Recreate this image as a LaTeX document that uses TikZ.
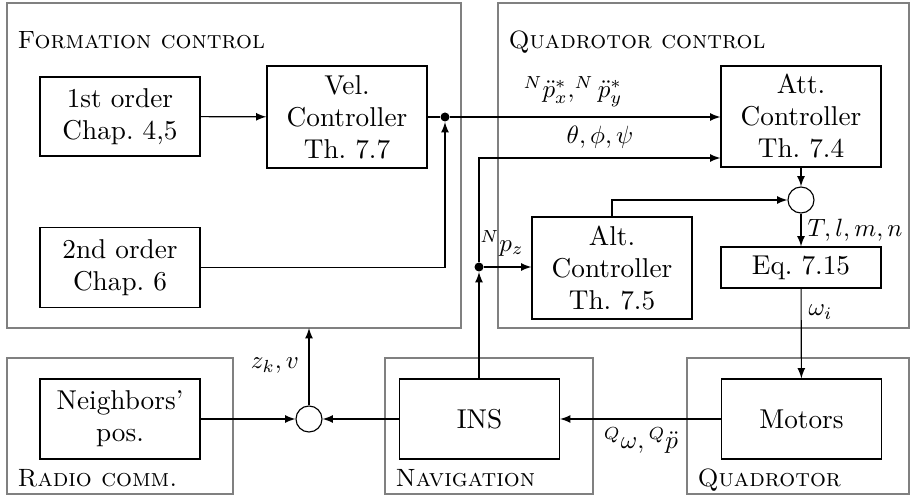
\documentclass[tikz,border=0pt]{standalone}
\usetikzlibrary{arrows}
\begin{document}
\begin{tikzpicture}[x=0.4pt,y=-0.4pt,>=latex,
   frame/.style={draw=black!50,line width=0.9pt},
   blk/.style={draw,line width=0.45pt,align=center,minimum width=64pt,inner sep=1pt,
      font=\fontsize{10.9}{12.8}\selectfont},
   sum/.style={draw,circle,line width=0.45pt,minimum size=10.4pt,inner sep=0pt},
   dot/.style={fill,circle,minimum size=3.6pt,inner sep=0pt}]
   \useasboundingbox (0,0) rectangle (912,497);
   %frames
   \draw[frame] (7,3) rectangle (461,328);
   \draw[frame] (498,3) rectangle (909,328);
   \draw[frame] (7,358) rectangle (233,494);
   \draw[frame] (385,358) rectangle (593,494);
   \draw[frame] (687,358) rectangle (909,494);
   \node[anchor=base west,inner sep=0pt] (lfc) at (17,49) {\textsc{Formation control}};
   \node[anchor=base west,inner sep=0pt] (lqc) at (508,49) {\textsc{Quadrotor control}};
   \node[anchor=base west,inner sep=0pt] (lrc) at (17,487) {\textsc{Radio comm.}};
   \node[anchor=base west,inner sep=0pt] (lnv) at (395,487) {\textsc{Navigation}};
   \node[anchor=base west,inner sep=0pt] (lqr) at (697,487) {\textsc{Quadrotor}};
   \coordinate (fcb) at (309,328);
   %blocks
   \node[blk,minimum height=31.6pt] (first) at (120,116.5) {1st order\\Chap.~4,5};
   \node[blk,minimum height=40.8pt] (vel) at (347,117) {Vel.\\Controller\\Th.~7.7};
   \node[blk,minimum height=32pt] (second) at (120,267.5) {2nd order\\Chap.~6};
   \node[blk,minimum height=40.4pt] (att) at (801,116.5) {Att.\\Controller\\Th.~7.4};
   \node[blk,minimum height=40.8pt] (alt) at (612,268) {Alt.\\Controller\\Th.~7.5};
   \node[blk,minimum height=16.4pt] (eq) at (801,267.5) {Eq.~7.15};
   \node[blk,minimum height=32pt] (nbr) at (120,419) {Neighbors'\\pos.};
   \node[blk,minimum height=32pt] (ins) at (479.5,419) {INS};
   \node[blk,minimum height=32pt] (mot) at (801.5,419) {Motors};
   \node[sum] (sum1) at (801,200) {};
   \node[sum] (sum2) at (309,419) {};
   \node[dot] (dot1) at (445,117) {};
   \node[dot] (dot2) at (479,267) {};
   \coordinate (angin) at (att.west |- 0,158);
   %connectors
   \draw[->,line width=0.45pt] (first) -- (vel);
   \draw[->,line width=0.45pt] (vel.east |- dot1) -- (dot1) -- (att.west |- dot1);
   \draw[->,line width=0.45pt] (second.east) -| (dot1);
   \draw[->,line width=0.45pt] (ins.north -| dot2) -- (dot2);
   \draw[->,line width=0.45pt] (dot2) -- (alt.west |- dot2);
   \draw[->,line width=0.45pt] (dot2) |- (angin);
   \draw[->,line width=0.45pt] (att.south) -- (sum1);
   \draw[->,line width=0.45pt] (alt.north) |- (sum1);
   \draw[->,line width=0.45pt] (sum1) -- (eq);
   \draw[->,line width=0.45pt] (eq) -- (mot);
   \draw[->,line width=0.45pt] (mot) -- (ins);
   \draw[->,line width=0.45pt] (ins) -- (sum2);
   \draw[->,line width=0.45pt] (nbr) -- (sum2);
   \draw[->,line width=0.45pt] (sum2) -- (fcb);
   %labels
   \node (lp) at (573,92) {$^N\ddot{p}_x^*,^N\ddot{p}_y^*$};
   \node (lang) at (600,137) {$\theta,\phi,\psi$};
   \node (lpz) at (502,243) {$^N p_z$};
   \node[anchor=west,inner sep=0pt] (ltl) at (807,230) {$T,l,m,n$};
   \node[anchor=west,inner sep=0pt] (lw) at (808,312) {$\omega_i$};
   \node (lq) at (641,440) {$^Q\omega,{}^Q\ddot{p}$};
   \node (lz) at (275,366) {$z_k,v$};
\end{tikzpicture}
\end{document}
